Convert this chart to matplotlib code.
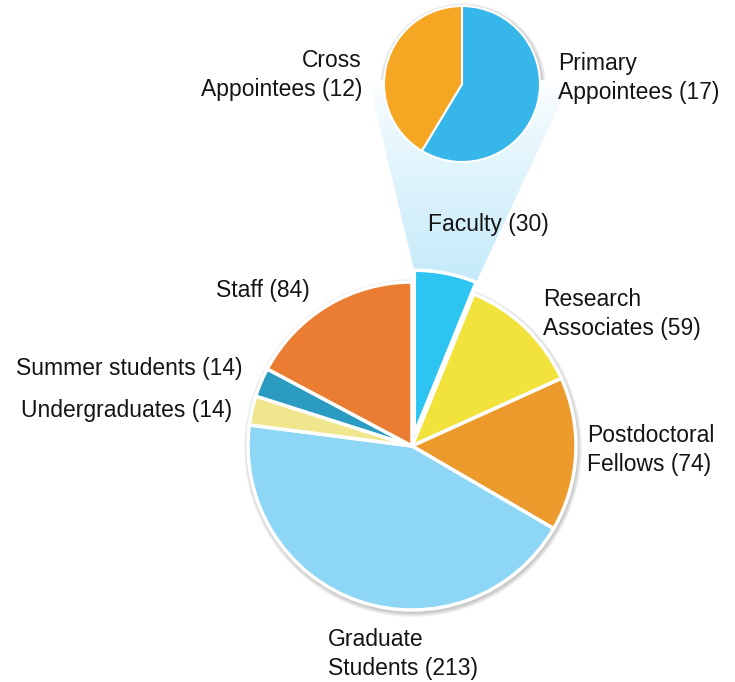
import numpy as np
import matplotlib
matplotlib.use("Agg")
from matplotlib import pyplot as plt
from matplotlib.patches import Polygon, Circle

# main pie, clockwise from the top
labels = ["Faculty (30)", "Research\nAssociates (59)", "Postdoctoral\nFellows (74)",
          "Graduate\nStudents (213)", "Undergraduates (14)", "Summer students (14)",
          "Staff (84)"]
values = [30, 59, 74, 213, 14, 14, 84]
colors = ["#2ec4f2", "#f2e33c", "#ec9a2c", "#8dd6f5", "#efe68e", "#2c9bc1", "#eb7d33"]

# faculty breakdown
sub_labels = ["Primary\nAppointees (17)", "Cross\nAppointees (12)"]
sub_values = [17, 12]
sub_colors = ["#36b6e9", "#f5a623"]

W, H = 735, 682


def py(y):
    # picture rows -> data y
    return H - y


fig = plt.figure(figsize=(W / 100, H / 100), dpi=100)
ax = fig.add_axes([0, 0, 1, 1])

main_c = (412, py(446))
main_r = 164
sub_c = (462, py(84))
sub_r = 78
expl = 12

# soft shadows behind the pies
for c, r in [(main_c, main_r), (sub_c, sub_r)]:
    for k in range(6):
        ax.add_patch(Circle((c[0] + 1, c[1] - 2), r + 1 + k * 0.8, color="#000000",
                            alpha=0.04, lw=0, zorder=1))

# cone from the faculty slice up to the small pie
frac = values[0] / sum(values)
a1, a2 = np.radians(90), np.radians(90 - 360 * frac)
am = (a1 + a2) / 2
fc = (main_c[0] + expl * np.cos(am), main_c[1] + expl * np.sin(am))
p_left = (fc[0] + main_r * np.cos(a1), fc[1] + main_r * np.sin(a1))
p_right = (fc[0] + main_r * np.cos(a2), fc[1] + main_r * np.sin(a2))
q_left = (sub_c[0] - 1.2 * sub_r, sub_c[1] + 4)
q_right = (sub_c[0] + 1.4 * sub_r, sub_c[1] + 4)
cone = Polygon([p_left, q_left, q_right, p_right], closed=True, fc="none", ec="none")
ax.add_patch(cone)
grad = np.linspace(0, 1, 256).reshape(-1, 1)
top = np.array([1.0, 1.0, 1.0])
bot = np.array([0xc4, 0xea, 0xf9]) / 255
img = top + (bot - top) * (grad ** 0.8)[:, :, None]
im = ax.imshow(img, extent=[q_left[0], q_right[0], p_right[1] - 5, q_left[1]],
               origin="upper", aspect="auto", zorder=1.5)
im.set_clip_path(cone)

wedges, _ = ax.pie(values, colors=colors, startangle=90, counterclock=False,
                   center=main_c, radius=main_r, explode=[expl] + [0] * 6,
                   wedgeprops=dict(edgecolor="white", linewidth=2.5))
for w in wedges:
    w.set_zorder(2)

sw, _ = ax.pie(sub_values, colors=sub_colors, startangle=90, counterclock=False,
               center=sub_c, radius=sub_r,
               wedgeprops=dict(edgecolor="white", linewidth=1.5))
for w in sw:
    w.set_zorder(2)

ax.set_xlim(0, W)
ax.set_ylim(0, H)
ax.set_aspect("equal")
ax.axis("off")

font = dict(fontsize=16.5, family=["Liberation Sans", "DejaVu Sans"], color="#141414",
            linespacing=1.32, va="center")
# label positions in picture pixels
pos = [(428, 224, "left"), (543, 314, "left"), (587, 450, "left"), (328, 654, "left"),
       (232, 411, "right"), (243, 369, "right"), (310, 291, "right")]
for lab, (x, y, ha) in zip(labels, pos):
    ax.text(x, py(y), lab, ha=ha, multialignment=ha, **font)

sub_pos = [(558, 78, "left"), (362, 75, "right")]
for lab, (x, y, ha) in zip(sub_labels, sub_pos):
    ax.text(x, py(y), lab, ha=ha, multialignment=ha, **font)

fig.savefig("out.png", dpi=100, facecolor="white")
